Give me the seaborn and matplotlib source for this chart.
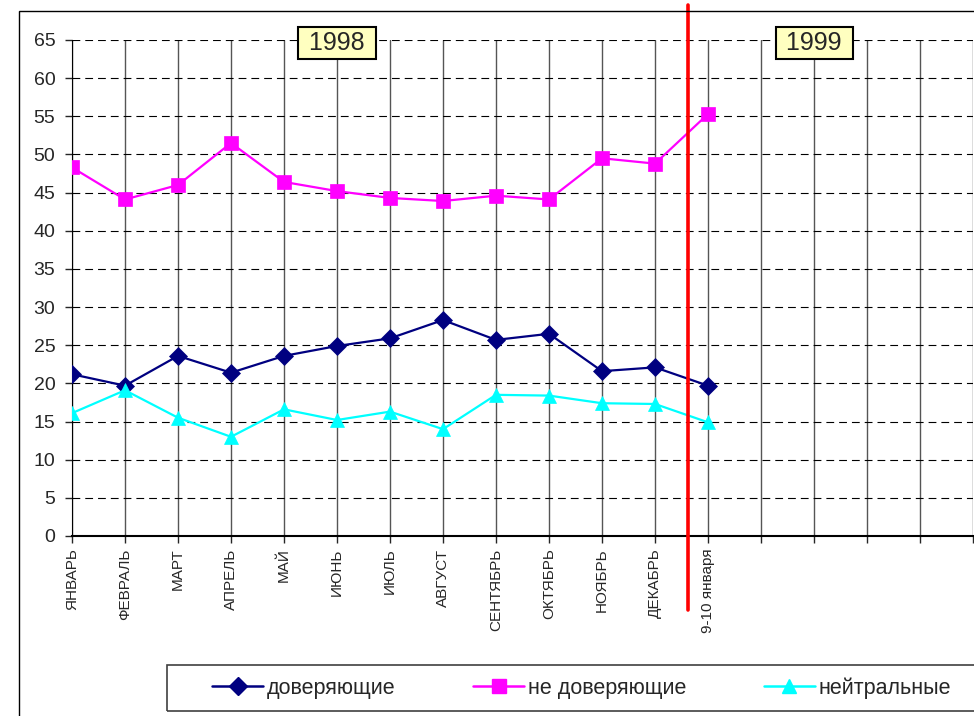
import pandas as pd
import seaborn as sns
import matplotlib.pyplot as plt
from matplotlib.patches import Rectangle
from matplotlib.lines import Line2D

sns.set_style("white")
plt.rcParams['font.family'] = ['Liberation Sans', 'DejaVu Sans']

# categories on the x axis (5 empty slots after the last poll)
periods = ['ЯНВАРЬ', 'ФЕВРАЛЬ', 'МАРТ', 'АПРЕЛЬ', 'МАЙ', 'ИЮНЬ', 'ИЮЛЬ',
           'АВГУСТ', 'СЕНТЯБРЬ', 'ОКТЯБРЬ', 'НОЯБРЬ', 'ДЕКАБРЬ', '9-10 января',
           '', '', '', '', '']

trusting = [21.2, 19.7, 23.6, 21.4, 23.6, 24.9, 25.9, 28.3, 25.7, 26.5, 21.6, 22.1, 19.7]
distrusting = [48.3, 44.1, 46.0, 51.5, 46.4, 45.2, 44.3, 43.9, 44.6, 44.1, 49.5, 48.8, 55.3]
neutral = [16.1, 19.1, 15.5, 13.0, 16.6, 15.2, 16.3, 14.0, 18.5, 18.4, 17.4, 17.3, 14.9]

series_names = ['доверяющие', 'не доверяющие', 'нейтральные']
colors = ['#000080', '#FF00FF', '#00FFFF']
markers = ['D', 's', '^']
msizes = [9, 10, 10.5]

year_labels = ['1998', '1999']
year_pos = [5, 14]
split_pos = 11.62  # red separator between 1998 and 1999

fig = plt.figure(figsize=(9.74, 7.16), dpi=100)
ax = fig.add_axes([72 / 974, 1 - 536 / 716, (973 - 72) / 974, 496 / 716])

frames = []
for name, vals in zip(series_names, [trusting, distrusting, neutral]):
    frames.append(pd.DataFrame({'pos': range(len(vals)), 'value': vals, 'series': name}))
df = pd.concat(frames, ignore_index=True)

for name, col, mk, ms in zip(series_names, colors, markers, msizes):
    sns.lineplot(data=df[df['series'] == name], x='pos', y='value', ax=ax,
                 color=col, marker=mk, markersize=ms, linewidth=1.6,
                 markeredgecolor=col, markeredgewidth=0.5, zorder=4)

ax.set_xlim(0, len(periods) - 1)
ax.set_ylim(0, 65)
ax.set_yticks(range(0, 66, 5))
ax.set_xticks(range(len(periods)))
ax.set_xticklabels(periods, rotation=90, fontsize=11)
ax.tick_params(axis='y', labelsize=14, length=5, width=1, direction='out', pad=7, left=True)
ax.tick_params(axis='x', length=5, width=1, direction='out', pad=4, bottom=True)
ax.set_xlabel('')
ax.set_ylabel('')

ax.yaxis.grid(True, color='black', linestyle=(0, (7, 4.5)), linewidth=0.8)
ax.xaxis.grid(True, color='#555555', linestyle='-', linewidth=1)
ax.set_axisbelow(True)
for s in ['top', 'right']:
    ax.spines[s].set_visible(False)
ax.spines['left'].set_color('black')
ax.spines['bottom'].set_color('black')
ax.spines['bottom'].set_linewidth(1.5)

ax.axvline(split_pos, ymin=-0.149, ymax=1.07, color='#FF0000', linewidth=2.6,
           clip_on=False, zorder=6)

for lbl, xp in zip(year_labels, year_pos):
    ax.text(xp, 64.6, ' ' + lbl + ' ', ha='center', va='center', fontsize=18, zorder=7,
            bbox=dict(boxstyle='square,pad=0.15', facecolor='#FFFFC0',
                      edgecolor='black', linewidth=1.5))

# chart area border
fig.patches.append(Rectangle((19 / 974, -0.1), 1.2, 1 - 11 / 716 + 0.1,
                             transform=fig.transFigure, fill=False,
                             edgecolor='black', linewidth=1))

# legend
fig.patches.append(Rectangle((167 / 974, 5 / 716), 1.0, 46 / 716,
                             transform=fig.transFigure, fill=False,
                             edgecolor='#404040', linewidth=1.2))
handles = [Line2D([], [], color=c, marker=m, markersize=s, linewidth=1.8,
                  markeredgecolor=c) for c, m, s in zip(colors, markers, msizes)]
fig.legend(handles, series_names, loc='center left',
           bbox_to_anchor=(201 / 974, 28 / 716), ncol=3, frameon=False,
           fontsize=15.5, handlelength=2.4, handletextpad=0.15,
           columnspacing=3.6, borderpad=0)

fig.savefig('out.png', dpi=100)
